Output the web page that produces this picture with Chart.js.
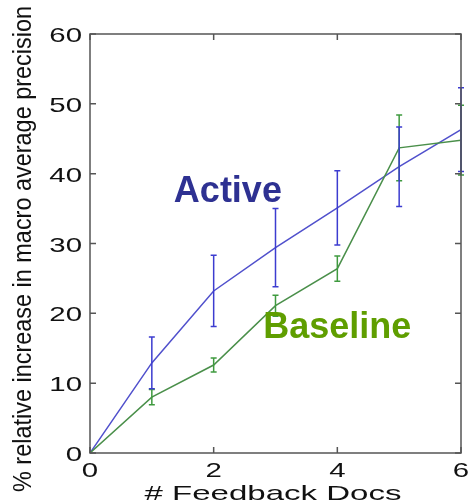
<!DOCTYPE html>
<html>
<head>
<meta charset="utf-8">
<script src="https://cdn.jsdelivr.net/npm/chart.js@4"></script>
<style>
  html, body { margin: 0; padding: 0; background: #fff; }
  #wrap { width: 470px; height: 502px; }
</style>
</head>
<body>
<div id="wrap"><canvas id="c"></canvas></div>
<script>
// data
const docs = [0, 1, 2, 3, 4, 5, 6]
const activeMean = [0, 12.9, 23.2, 29.4, 35.1, 41.0, 46.3]
const activeErr = [0, 3.7, 5.1, 5.6, 5.3, 5.7, 6.0]
const baselineMean = [0, 8.0, 12.6, 21.1, 26.4, 43.7, 44.8]
const baselineErr = [0, 1.1, 1.0, 1.5, 1.8, 4.7, 5.0]
const xTicks = [0, 2, 4, 6]
const yTicks = [0, 10, 20, 30, 40, 50, 60]
const xTitle = '# Feedback Docs'
const yTitle = '% relative increase in macro average precision'

const FONT = "'Liberation Sans', Arial, sans-serif"

const toPoints = (ys) => docs.map((x, i) => ({ x: x, y: ys[i] }))

// the source picture is stretched sideways, so text is drawn with a scale
const drawText = (ctx, text, x, y, size, opts) => {
    ctx.save()
    ctx.translate(x, y)
    if (opts.rotate) ctx.rotate(opts.rotate)
    ctx.font = (opts.bold ? 'bold ' : '') + size + 'px ' + FONT
    let sx = opts.sx || 1
    if (opts.fitWidth) sx = opts.fitWidth / ctx.measureText(text).width
    ctx.scale(sx, opts.sy || 1)
    ctx.textAlign = opts.align || 'center'
    ctx.textBaseline = opts.baseline || 'middle'
    ctx.fillStyle = opts.color || '#111'
    ctx.fillText(text, 0, 0)
    ctx.restore()
}

// error bars, matlab style box with inward ticks, labels
const extras = {
    id: 'extras',
    afterDatasetsDraw(chart) {
        const ctx = chart.ctx
        const xs = chart.scales.x
        const ys = chart.scales.y
        const area = chart.chartArea

        const bars = [
            { mean: baselineMean, err: baselineErr, color: '#3f9a3f' },
            { mean: activeMean, err: activeErr, color: '#3c3cd0' }
        ]
        ctx.save()
        ctx.lineWidth = 1.5
        bars.forEach(b => {
            ctx.strokeStyle = b.color
            docs.forEach((d, i) => {
                if (!b.err[i]) return
                const px = xs.getPixelForValue(d)
                const top = ys.getPixelForValue(b.mean[i] + b.err[i])
                const bot = ys.getPixelForValue(b.mean[i] - b.err[i])
                ctx.beginPath()
                ctx.moveTo(px, top); ctx.lineTo(px, bot)
                ctx.moveTo(px - 3, top); ctx.lineTo(px + 3, top)
                ctx.moveTo(px - 3, bot); ctx.lineTo(px + 3, bot)
                ctx.stroke()
            })
        })

        // box and ticks
        ctx.strokeStyle = '#555'
        ctx.lineWidth = 1.5
        ctx.strokeRect(area.left, area.top, area.right - area.left, area.bottom - area.top)
        ctx.beginPath()
        xTicks.forEach(t => {
            const px = xs.getPixelForValue(t)
            ctx.moveTo(px, area.bottom); ctx.lineTo(px, area.bottom - 6)
            ctx.moveTo(px, area.top); ctx.lineTo(px, area.top + 6)
        })
        yTicks.forEach(t => {
            const py = ys.getPixelForValue(t)
            ctx.moveTo(area.left, py); ctx.lineTo(area.left + 6, py)
            ctx.moveTo(area.right, py); ctx.lineTo(area.right - 6, py)
        })
        ctx.stroke()
        ctx.restore()

        // tick labels
        xTicks.forEach(t => {
            drawText(ctx, String(t), xs.getPixelForValue(t), area.bottom + 24, 21,
                { sx: 1.4, baseline: 'alphabetic' })
        })
        yTicks.forEach(t => {
            drawText(ctx, String(t), area.left - 8, ys.getPixelForValue(t) + 8, 21,
                { sx: 1.4, align: 'right', baseline: 'alphabetic' })
        })

        // axis titles
        drawText(ctx, xTitle, 273, 500, 21, { fitWidth: 257, baseline: 'alphabetic' })
        drawText(ctx, yTitle, 31, 249, 23, { rotate: -Math.PI / 2, fitWidth: 486, sy: 1.12, baseline: 'alphabetic' })

        // series labels
        drawText(ctx, 'Active', xs.getPixelForValue(2.23), ys.getPixelForValue(37.4), 36, { bold: true, color: '#2e3192' })
        drawText(ctx, 'Baseline', xs.getPixelForValue(4.0), ys.getPixelForValue(17.9), 36, { bold: true, color: '#5f9e00' })
    }
}

const config = {
    type: 'line',
    data: {
        datasets: [
            {
                label: 'Baseline',
                data: toPoints(baselineMean),
                borderColor: '#4a8f4a',
                borderWidth: 1.5,
                pointRadius: 0,
                tension: 0
            },
            {
                label: 'Active',
                data: toPoints(activeMean),
                borderColor: '#5050cc',
                borderWidth: 1.5,
                pointRadius: 0,
                tension: 0
            }
        ]
    },
    options: {
        responsive: true,
        maintainAspectRatio: false,
        animation: false,
        layout: { padding: { top: 34, right: 9, left: 0, bottom: 0 } },
        plugins: { legend: { display: false }, tooltip: { enabled: false } },
        scales: {
            x: {
                type: 'linear',
                min: 0, max: 6,
                afterBuildTicks: (axis) => { axis.ticks = xTicks.map(v => ({ value: v })) },
                afterFit: (axis) => { axis.height = 49 },
                grid: { display: false },
                border: { display: false },
                ticks: { display: false },
                title: { display: false, text: xTitle }
            },
            y: {
                min: 0, max: 60,
                afterBuildTicks: (axis) => { axis.ticks = yTicks.map(v => ({ value: v })) },
                afterFit: (axis) => { axis.width = 90 },
                grid: { display: false },
                border: { display: false },
                ticks: { display: false },
                title: { display: false, text: yTitle }
            }
        }
    },
    plugins: [extras]
}

new Chart(document.getElementById('c'), config)
</script>
</body>
</html>
